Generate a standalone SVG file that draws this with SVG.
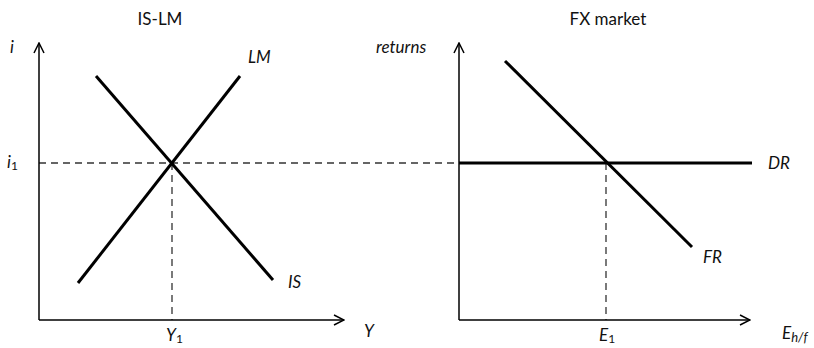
<svg xmlns="http://www.w3.org/2000/svg" width="814" height="348" viewBox="0 0 814 348">
<defs>
<marker id="arr" viewBox="0 0 12 12" refX="11" refY="6" markerWidth="12" markerHeight="12" markerUnits="userSpaceOnUse" orient="auto">
<path d="M1,1 L11,6 L1,11" fill="none" stroke="#000" stroke-width="1.5"/>
</marker>
<style>
.ax{stroke:#000;stroke-width:1.5;fill:none}
.cv{stroke:#000;stroke-width:3;fill:none}
.ds{stroke:#333;stroke-width:1.3;stroke-dasharray:7,5;fill:none}
text{font-family:Lato,"Open Sans","Liberation Sans",sans-serif;fill:#111;font-size:17px}
.it{font-style:italic}
.t{font-size:17px}
</style>
</defs>
<rect width="814" height="348" fill="#fff"/>
<g id="connectors">
<line class="ds" x1="39" y1="163" x2="456" y2="163"/>
<line class="ds" x1="172" y1="163" x2="172" y2="320"/>
<line class="ds" x1="606" y1="163" x2="606" y2="320"/>
</g>
<g id="islm-axes">
<line class="ax" x1="39" y1="320" x2="39" y2="43" marker-end="url(#arr)"/>
<line class="ax" x1="39" y1="320" x2="344" y2="320" marker-end="url(#arr)"/>
</g>
<g id="LM"><line class="cv" x1="78" y1="283" x2="240" y2="76"/></g>
<g id="IS"><line class="cv" x1="96" y1="76" x2="273" y2="280"/></g>
<g id="fx-axes">
<line class="ax" x1="459" y1="320" x2="459" y2="43" marker-end="url(#arr)"/>
<line class="ax" x1="459" y1="320" x2="750" y2="320" marker-end="url(#arr)"/>
</g>
<g id="DR"><line class="cv" x1="459" y1="163" x2="752" y2="163"/></g>
<g id="FR"><line class="cv" x1="505" y1="61" x2="692" y2="247"/></g>
<g id="labels">
<text class="t" x="160" y="25" text-anchor="middle">IS-LM</text>
<text class="t" x="608" y="25" text-anchor="middle">FX market</text>
<text class="it" x="10" y="53">i</text>
<text class="it" x="248" y="63">LM</text>
<text class="it" x="7" y="168">i<tspan font-size="12" font-style="normal" dy="2">1</tspan></text>
<text class="it" x="288" y="288">IS</text>
<text class="it" x="166" y="341">Y<tspan font-size="12" font-style="normal" dy="2">1</tspan></text>
<text class="it" x="364" y="337">Y</text>
<text class="it" x="376" y="53" font-size="15">returns</text>
<text class="it" x="768" y="169">DR</text>
<text class="it" x="703" y="263">FR</text>
<text class="it" x="599" y="341">E<tspan font-size="12" font-style="normal" dy="2">1</tspan></text>
<text class="it" x="782" y="339">E<tspan font-size="13" dy="3">h/f</tspan></text>
</g>
</svg>
